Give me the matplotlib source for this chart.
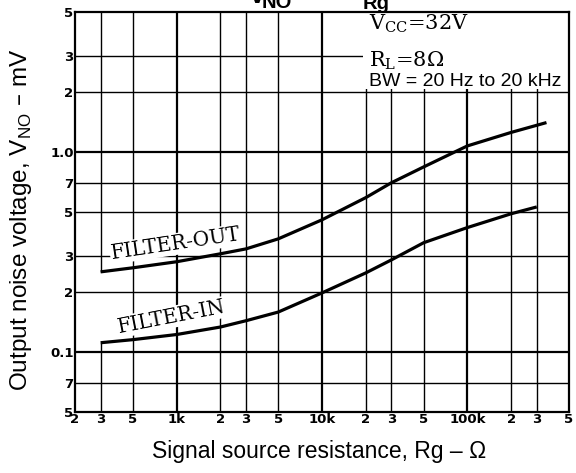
import matplotlib
matplotlib.use('Agg')
import matplotlib.pyplot as plt
from matplotlib.patches import Rectangle

# values (Rg in ohm, V_NO in mV)
rg_out = [300, 500, 1e3, 2e3, 3e3, 5e3, 1e4, 2e4, 3e4, 5e4, 8e4, 1e5, 2e5, 3.5e5]
vno_out = [0.251, 0.263, 0.282, 0.309, 0.327, 0.367, 0.457, 0.59, 0.70,
           0.84, 0.99, 1.07, 1.25, 1.40]

rg_in = [300, 500, 1e3, 2e3, 3e3, 5e3, 1e4, 2e4, 3e4, 5e4, 1e5, 2e5, 3e5]
vno_in = [0.111, 0.115, 0.122, 0.133, 0.143, 0.158, 0.197, 0.248, 0.288,
          0.351, 0.418, 0.49, 0.53]

x_ticks = [200, 300, 500, 1e3, 2e3, 3e3, 5e3, 1e4, 2e4, 3e4, 5e4,
           1e5, 2e5, 3e5, 5e5]
x_labels = ['2', '3', '5', '1k', '2', '3', '5', '10k', '2', '3', '5',
            '100k', '2', '3', '5']
y_ticks = [5, 3, 2, 1, 0.7, 0.5, 0.3, 0.2, 0.1, 0.07, 0.05]
y_labels = ['5', '3', '2', '1.0', '7', '5', '3', '2', '0.1', '7', '5']

W, H = 576, 473


def fx(px):
    return px / W


def fy(py):
    return 1 - py / H


fig = plt.figure(figsize=(W / 100, H / 100), dpi=100)
ax = fig.add_axes([fx(75), fy(412), 494 / W, 400 / H])
ax.set_xscale('log')
ax.set_yscale('log')
ax.set_xlim(200, 5e5)
ax.set_ylim(0.05, 5)
ax.minorticks_off()

# grid drawn by hand (decade lines heavier)
for x in x_ticks[1:-1]:
    lw = 1.6 if x in (1e3, 1e4, 1e5) else 1.0
    if x == 300:
        ax.vlines(x, 0.05, 0.111, color='black', lw=lw, zorder=1)
        ax.vlines(x, 0.251, 5, color='black', lw=lw, zorder=1)
    else:
        ax.axvline(x, color='black', lw=lw, zorder=1)
for y in y_ticks[1:-1]:
    lw = 1.6 if y in (1, 0.1) else 1.0
    ax.axhline(y, color='black', lw=lw, zorder=1)

# white patch behind the conditions text
ax.add_patch(Rectangle((1.9e4, 2.07), 5e5 - 1.9e4, 5 - 2.07,
                       facecolor='white', edgecolor='none', zorder=1.5))

ax.plot(rg_out, vno_out, color='black', lw=2.3, zorder=2,
        solid_capstyle='butt')
ax.plot(rg_in, vno_in, color='black', lw=2.3, zorder=2,
        solid_capstyle='butt')

for s in ax.spines.values():
    s.set_linewidth(1.6)

ax.set_xticks(x_ticks)
ax.set_xticklabels(x_labels)
ax.set_yticks(y_ticks)
ax.set_yticklabels(y_labels)
ax.tick_params(length=0, pad=1, labelsize=9.5)
for lab in ax.get_xticklabels() + ax.get_yticklabels():
    lab.set_fontweight('bold')

box = dict(facecolor='white', edgecolor='none', pad=1)
fig.text(fx(176), fy(244), 'FILTER-OUT', family='DejaVu Serif',
         fontsize=14.5, rotation=8.5, ha='center', va='center', bbox=box)
fig.text(fx(172), fy(317), 'FILTER-IN', family='DejaVu Serif',
         fontsize=14.5, rotation=11, ha='center', va='center', bbox=box)

fig.text(fx(369), fy(24), r'V$_{\mathregular{CC}}$=32V',
         family='DejaVu Serif', fontsize=15, ha='left', va='center')
fig.text(fx(369), fy(61), r'R$_{\mathregular{L}}$=8Ω',
         family='DejaVu Serif', fontsize=15, ha='left', va='center')
fig.text(fx(369), fy(82), 'BW = 20 Hz to 20 kHz',
         family='Liberation Sans', fontsize=14, ha='left', va='center')

# chart title, almost entirely cut off by the top edge
fig.text(fx(257), fy(3), 'V', family='Liberation Sans', fontweight='bold',
         fontsize=20, ha='center', va='baseline')
fig.text(fx(262), fy(8), 'NO', family='Liberation Sans', fontweight='bold',
         fontsize=14.5, ha='left', va='baseline')
fig.text(fx(363), fy(9), 'Rg', family='Liberation Sans', fontweight='bold',
         fontsize=14.5, ha='left', va='baseline')

fig.text(fx(21), fy(220), r'Output noise voltage, V$_{\mathregular{NO}}$ – mV',
         family='Liberation Sans', fontsize=17.5, rotation=90,
         ha='center', va='center')
fig.text(fx(152), fy(458), 'Signal source resistance, Rg – Ω',
         family='Liberation Sans', fontsize=16.5, ha='left', va='baseline')

fig.savefig('out.png', dpi=100, facecolor='white')
